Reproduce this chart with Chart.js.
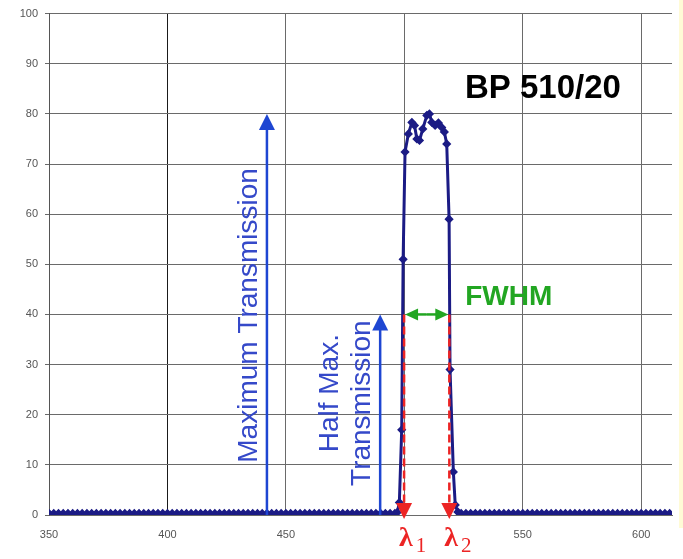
<!DOCTYPE html>
<html>
<head>
<meta charset="utf-8">
<script src="https://cdn.jsdelivr.net/npm/chart.js@4/dist/chart.umd.min.js"></script>
<style>
  body { margin: 0; background: #fff; }
  #wrap { position: relative; width: 683px; height: 559px; }
  #faixa { position: absolute; right: 0; top: 0; width: 4px; height: 528px; background: #fffbd6; }
</style>
</head>
<body>
<div id="wrap">
  <canvas id="grafico"></canvas>
  <div id="faixa"></div>
</div>
<script>
// blocking region before the pass band (nm, %T)
const antesWl = [
    350, 352, 354, 356, 358, 360, 362, 364, 366, 368,
    370, 372, 374, 376, 378, 380, 382, 384, 386, 388,
    390, 392, 394, 396, 398, 400, 402, 404, 406, 408,
    410, 412, 414, 416, 418, 420, 422, 424, 426, 428,
    430, 432, 434, 436, 438, 440, 442, 444, 446, 448,
    450, 452, 454, 456, 458, 460, 462, 464, 466, 468,
    470, 472, 474, 476, 478, 480, 482, 484, 486, 488,
    490, 492, 494, 496
];
const antesT = [
    0.3, 0.3, 0.3, 0.3, 0.3, 0.3, 0.3, 0.3, 0.3, 0.3,
    0.3, 0.3, 0.3, 0.3, 0.3, 0.3, 0.3, 0.3, 0.3, 0.3,
    0.3, 0.3, 0.3, 0.3, 0.3, 0.3, 0.3, 0.3, 0.3, 0.3,
    0.3, 0.3, 0.3, 0.3, 0.3, 0.3, 0.3, 0.3, 0.3, 0.3,
    0.3, 0.3, 0.3, 0.3, 0.3, 0.3, 0.3, 0.3, 0.3, 0.3,
    0.3, 0.3, 0.3, 0.3, 0.3, 0.3, 0.3, 0.3, 0.3, 0.3,
    0.3, 0.3, 0.3, 0.3, 0.3, 0.3, 0.3, 0.3, 0.3, 0.3,
    0.3, 0.3, 0.3, 0.3
];

// pass band BP 510/20
const bandaWl = [497.0, 497.9, 498.9, 499.5, 500.3, 501.7, 503.2, 504.3, 505.3, 506.4, 507.8, 509.5,
                 510.6, 511.6, 513.0, 514.4, 515.8, 516.9, 517.9, 518.9, 519.3, 520.7, 521.5, 522.6];
const bandaT = [0.5, 2.5, 17, 51, 72.4, 76, 78.3, 77.7, 75, 74.7, 77, 79.7,
                80, 78.3, 77.7, 78.2, 77.3, 76.4, 74, 59, 29, 8.6, 2, 0.6];

// blocking region after the pass band
const depoisWl = [
    524, 526, 528, 530, 532, 534, 536, 538, 540, 542,
    544, 546, 548, 550, 552, 554, 556, 558, 560, 562,
    564, 566, 568, 570, 572, 574, 576, 578, 580, 582,
    584, 586, 588, 590, 592, 594, 596, 598, 600, 602,
    604, 606, 608, 610, 612
];
const depoisT = [
    0.3, 0.3, 0.3, 0.3, 0.3, 0.3, 0.3, 0.3, 0.3, 0.3,
    0.3, 0.3, 0.3, 0.3, 0.3, 0.3, 0.3, 0.3, 0.3, 0.3,
    0.3, 0.3, 0.3, 0.3, 0.3, 0.3, 0.3, 0.3, 0.3, 0.3,
    0.3, 0.3, 0.3, 0.3, 0.3, 0.3, 0.3, 0.3, 0.3, 0.3,
    0.3, 0.3, 0.3, 0.3, 0.3
];

// axis ticks
const xTicksValores = [350, 400, 450, 500, 550, 600];
const xTicksTexto = ['350', '400', '450', '', '550', '600']; // 500 is hidden under the lambda labels
const yTicksValores = [0, 10, 20, 30, 40, 50, 60, 70, 80, 90, 100];

// annotation anchors (nm, %T)
const maxTransmissao = { wl: 442, t: 80 };
const meiaTransmissao = { wl: 489.8, t: 40 };
const lambda1 = 499.9;
const lambda2 = 519.0;

const comprimentos = antesWl.concat(bandaWl, depoisWl);
const transmissoes = antesT.concat(bandaT, depoisT);
const pontos = comprimentos.map((wl, i) => ({ x: wl, y: transmissoes[i] }));

const azul = '#1e46d2';
const azulTexto = '#3549c9';
const verde = '#22a622';
const vermelho = '#ec2424';

function desenharSeta(ctx, x1, y1, x2, y2, comp, meia) {
    const a = Math.atan2(y2 - y1, x2 - x1);
    ctx.beginPath();
    ctx.moveTo(x1, y1);
    ctx.lineTo(x2 - Math.cos(a) * comp * 0.7, y2 - Math.sin(a) * comp * 0.7);
    ctx.stroke();
    ctx.beginPath();
    ctx.moveTo(x2, y2);
    ctx.lineTo(x2 - comp * Math.cos(a) + meia * Math.sin(a), y2 - comp * Math.sin(a) - meia * Math.cos(a));
    ctx.lineTo(x2 - comp * Math.cos(a) - meia * Math.sin(a), y2 - comp * Math.sin(a) + meia * Math.cos(a));
    ctx.closePath();
    ctx.fill();
}

function textoVertical(ctx, texto, px, py) {
    ctx.save();
    ctx.translate(px, py);
    ctx.rotate(-Math.PI / 2);
    ctx.textAlign = 'center';
    ctx.textBaseline = 'middle';
    ctx.fillText(texto, 0, 0);
    ctx.restore();
}

// arrows, FWHM marks and labels drawn on top of the curve
const anotacoes = {
    id: 'anotacoes',
    afterDatasetsDraw(chart) {
        const { ctx, scales: { x, y } } = chart;
        ctx.save();

        // maximum transmission arrow
        ctx.strokeStyle = azul;
        ctx.fillStyle = azul;
        ctx.lineWidth = 2.5;
        desenharSeta(ctx, x.getPixelForValue(maxTransmissao.wl), y.getPixelForValue(0),
            x.getPixelForValue(maxTransmissao.wl), y.getPixelForValue(maxTransmissao.t), 16, 8);
        // half max arrow
        desenharSeta(ctx, x.getPixelForValue(meiaTransmissao.wl), y.getPixelForValue(0),
            x.getPixelForValue(meiaTransmissao.wl), y.getPixelForValue(meiaTransmissao.t), 16, 8);

        // red dashed lines down to lambda1 / lambda2
        ctx.strokeStyle = vermelho;
        ctx.fillStyle = vermelho;
        ctx.lineWidth = 2.5;
        [lambda1, lambda2].forEach(l => {
            const px = x.getPixelForValue(l);
            ctx.setLineDash([8, 4]);
            ctx.beginPath();
            ctx.moveTo(px, y.getPixelForValue(meiaTransmissao.t));
            ctx.lineTo(px, y.getPixelForValue(0) - 10);
            ctx.stroke();
            ctx.setLineDash([]);
            desenharSeta(ctx, px, y.getPixelForValue(0) - 12, px, y.getPixelForValue(0) + 4, 16, 8);
        });

        // FWHM double arrow
        ctx.strokeStyle = verde;
        ctx.fillStyle = verde;
        ctx.lineWidth = 2.5;
        const xm = (x.getPixelForValue(lambda1) + x.getPixelForValue(lambda2)) / 2;
        const yh = y.getPixelForValue(meiaTransmissao.t);
        desenharSeta(ctx, xm, yh, x.getPixelForValue(lambda1) + 1, yh, 13, 6);
        desenharSeta(ctx, xm, yh, x.getPixelForValue(lambda2) - 1, yh, 13, 6);

        // texts
        ctx.fillStyle = azulTexto;
        ctx.font = '28px "Liberation Sans", Arial, sans-serif';
        textoVertical(ctx, 'Maximum Transmission', x.getPixelForValue(434.4), y.getPixelForValue(39.8));
        textoVertical(ctx, 'Half Max.', x.getPixelForValue(468.6), y.getPixelForValue(24.3));
        textoVertical(ctx, 'Transmission', x.getPixelForValue(482.1), y.getPixelForValue(22.3));

        ctx.fillStyle = verde;
        ctx.font = 'bold 28px "Liberation Sans", Arial, sans-serif';
        ctx.textAlign = 'left';
        ctx.textBaseline = 'middle';
        ctx.fillText('FWHM', x.getPixelForValue(525.7), y.getPixelForValue(43.4));

        ctx.fillStyle = '#000';
        ctx.font = 'bold 33px "Liberation Sans", Arial, sans-serif';
        ctx.fillText('BP 510/20', x.getPixelForValue(525.6), y.getPixelForValue(85));

        // lambda labels below the axis
        ctx.fillStyle = vermelho;
        ctx.textBaseline = 'alphabetic';
        [[lambda1, '1'], [lambda2, '2']].forEach(([l, sub]) => {
            const px = x.getPixelForValue(l) - 5;
            ctx.font = 'bold 28px "Liberation Serif", "Times New Roman", serif';
            ctx.fillText('λ', px, 546);
            const w = ctx.measureText('λ').width;
            ctx.font = '21px "Liberation Serif", "Times New Roman", serif';
            ctx.fillText(sub, px + w + 3, 552);
        });

        ctx.restore();
    }
};

new Chart(document.getElementById('grafico'), {
    type: 'scatter',
    data: {
        datasets: [{
            data: pontos,
            showLine: true,
            borderColor: '#1b1b85',
            backgroundColor: '#1b1b85',
            borderWidth: 3,
            pointStyle: 'rectRot',
            pointRadius: 2.5,
            pointHoverRadius: 2.5,
            tension: 0
        }]
    },
    options: {
        responsive: true,
        maintainAspectRatio: false,
        animation: false,
        layout: { padding: { top: 13, right: 11, left: 0, bottom: 0 } },
        plugins: {
            legend: { display: false },
            tooltip: { enabled: false }
        },
        scales: {
            x: {
                type: 'linear',
                min: 350,
                max: 613,
                afterBuildTicks(scale) {
                    scale.ticks = xTicksValores.map(v => ({ value: v }));
                },
                afterFit(scale) { scale.height = 44; },
                grid: {
                    color: ctx => ctx.tick && ctx.tick.value === 400 ? '#1a1a1a' : '#6a6a6a',
                    lineWidth: 1,
                    drawTicks: false
                },
                border: { display: true, color: '#6a6a6a' },
                ticks: {
                    padding: 13,
                    color: '#555',
                    font: { size: 11, family: '"Liberation Sans", Arial, sans-serif' },
                    callback: (v, i) => xTicksTexto[i]
                }
            },
            y: {
                min: 0,
                max: 100,
                afterBuildTicks(scale) {
                    scale.ticks = yTicksValores.map(v => ({ value: v }));
                },
                afterFit(scale) { scale.width = 49; },
                grid: {
                    color: '#6a6a6a',
                    lineWidth: 1,
                    tickLength: 4
                },
                border: { display: true, color: '#555' },
                ticks: {
                    padding: 7,
                    color: '#555',
                    font: { size: 11, family: '"Liberation Sans", Arial, sans-serif' }
                }
            }
        }
    },
    plugins: [anotacoes]
});
</script>
</body>
</html>
